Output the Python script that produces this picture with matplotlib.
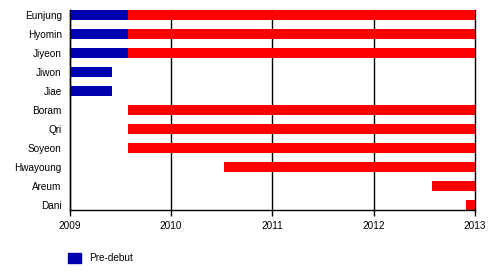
import matplotlib
matplotlib.use("Agg")
import matplotlib.pyplot as plt
import matplotlib.dates as mdates
from matplotlib.patches import Patch
import datetime as dt

plt.rcParams['font.family'] = ['Liberation Sans', 'DejaVu Sans']

members = ["Eunjung", "Hyomin", "Jiyeon", "Jiwon", "Jiae", "Boram", "Qri",
           "Soyeon", "Hwayoung", "Areum", "Dani"]
predebut_start = ["2009-01-01", "2009-01-01", "2009-01-01", "2009-01-01", "2009-01-01",
                  None, None, None, None, None, None]
predebut_end = ["2009-07-29", "2009-07-29", "2009-07-29", "2009-06-03", "2009-06-03",
                None, None, None, None, None, None]
active_start = ["2009-07-29", "2009-07-29", "2009-07-29", None, None,
                "2009-07-29", "2009-07-29", "2009-07-29", "2010-07-12", "2012-07-30", "2012-12-01"]
active_end = ["2013-01-01"] * 3 + [None, None] + ["2013-01-01"] * 6
year_ticks = ["2009", "2010", "2011", "2012", "2013"]

BLUE = "#0000b0"
RED = "#ff0000"

def d(s):
    return mdates.date2num(dt.date.fromisoformat(s))

fig = plt.figure(figsize=(5, 2.75), dpi=100)
ax = fig.add_axes([70/500, 1-210/275, 405/500, 200/275])

h = 10/19
n = len(members)
for i, m in enumerate(members):
    y = n - 1 - i
    if predebut_start[i]:
        s, e = d(predebut_start[i]), d(predebut_end[i])
        ax.barh(y, e - s, left=s, height=h, color=BLUE, zorder=3)
    if active_start[i]:
        s, e = d(active_start[i]), d(active_end[i])
        ax.barh(y, e - s, left=s, height=h, color=RED, zorder=3)

ax.set_yticks(range(n))
ax.set_yticklabels(members[::-1], fontsize=7.2)
ax.set_ylim(-h/2, n - 1 + h/2)
ticks = [d(f"{y}-01-01") for y in year_ticks]
ax.set_xticks(ticks)
ax.set_xticklabels(year_ticks, fontsize=7.2)
ax.set_xlim(ticks[0], ticks[-1])
ax.tick_params(axis='y', length=0, pad=6)
ax.tick_params(axis='x', length=4, width=1, color='black', pad=4)
for t in ticks:
    ax.axvline(t, color='black', lw=1, zorder=1, clip_on=False)
for sp in ['top', 'right']:
    ax.spines[sp].set_visible(False)
for sp in ['left', 'bottom']:
    ax.spines[sp].set_linewidth(1)
    ax.spines[sp].set_zorder(4)

fig.legend(handles=[Patch(color=BLUE, label="Pre-debut")], loc='center left',
           bbox_to_anchor=(63/500, 1-258/275), frameon=False, fontsize=7.2,
           handlelength=1.3, handleheight=1.3, handletextpad=0.85, borderpad=0)

fig.savefig("out.png", dpi=100)
